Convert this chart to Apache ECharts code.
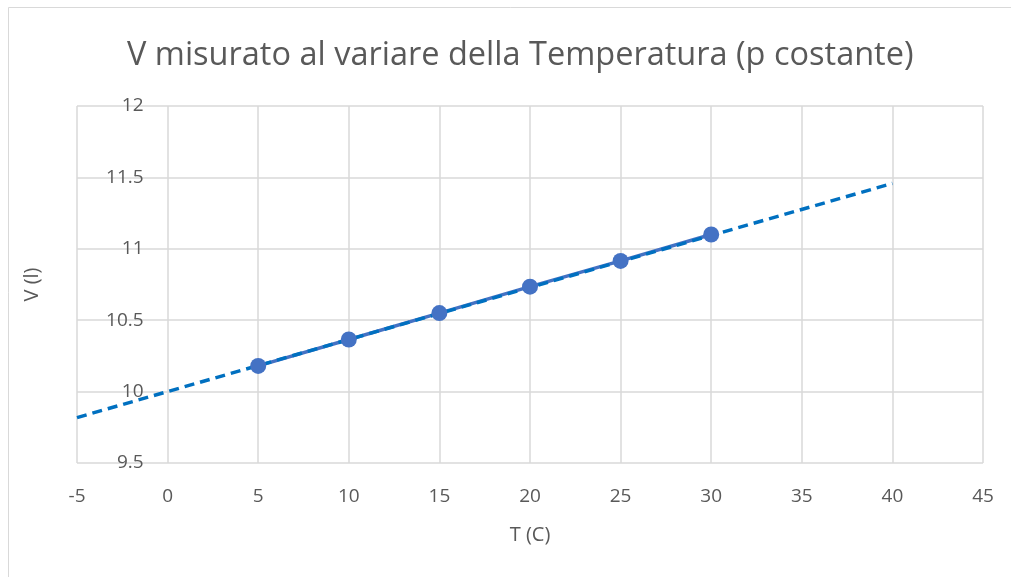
<!DOCTYPE html>
<html>
<head>
<meta charset="utf-8">
<script src="https://cdn.jsdelivr.net/npm/echarts@6/dist/echarts.min.js"></script>
<style>html,body{margin:0;padding:0;background:#fff}#c{width:1011px;height:577px}</style>
</head>
<body>
<div id="c"></div>
<script>
// Data
const temperatures = [5, 10, 15, 20, 25, 30];
const volumes = [10.18, 10.365, 10.55, 10.735, 10.915, 11.10];
const trendT = [-5, 40];
const trendV = [9.818, 11.458];
const xTicks = { min: -5, max: 45, interval: 5 };
const yTicks = { min: 9.5, max: 12, interval: 0.5 };
const titleText = 'V misurato al variare della Temperatura (p costante)';
const xName = 'T (C)';
const yName = 'V (l)';

const pts = temperatures.map((t, i) => [t, volumes[i]]);
const trend = trendT.map((t, i) => [t, trendV[i]]);
const font = '"Open Sans", "Noto Sans", sans-serif';
const grey = '#595959';

const gridLeft = 77, gridRight = 28;
const plotW = 1011 - gridLeft - gridRight;
// y axis crosses the x axis at x = 0
const yAxisOffset = -plotW * (0 - xTicks.min) / (xTicks.max - xTicks.min);

const chart = echarts.init(document.getElementById('c'), null, { renderer: 'canvas' });
chart.setOption({
  animation: false,
  backgroundColor: '#fff',
  title: {
    text: titleText, left: 122, top: 34,
    textStyle: { fontFamily: font, fontSize: 32.5, fontWeight: 'normal', color: grey }
  },
  graphic: [{
    type: 'rect', shape: { x: 8.5, y: 7.5, width: 1100, height: 700 },
    style: { fill: 'none', stroke: '#d9d9d9', lineWidth: 1 }, silent: true
  }],
  grid: { left: gridLeft, right: gridRight, top: 106, bottom: 114, containLabel: false, outerBoundsMode: 'none' },
  xAxis: {
    type: 'value', min: xTicks.min, max: xTicks.max, interval: xTicks.interval,
    name: xName, nameLocation: 'middle', nameGap: 62,
    nameTextStyle: { fontFamily: font, fontSize: 20, color: grey },
    axisLine: { show: false }, axisTick: { show: false },
    axisLabel: { fontFamily: font, fontSize: 19, color: grey, margin: 24 },
    splitLine: { show: true, lineStyle: { color: '#d9d9d9', width: 1.5 } }
  },
  yAxis: {
    type: 'value', min: yTicks.min, max: yTicks.max, interval: yTicks.interval,
    position: 'left', offset: yAxisOffset,
    name: yName, nameLocation: 'middle', nameGap: 125, nameRotate: 90,
    nameTextStyle: { fontFamily: font, fontSize: 20, color: grey },
    axisLine: { show: false, onZero: false }, axisTick: { show: false },
    axisLabel: { fontFamily: font, fontSize: 19, color: grey, margin: 24 },
    splitLine: { show: true, lineStyle: { color: '#d9d9d9', width: 1.5 } }
  },
  series: [
    {
      type: 'line', data: pts, showSymbol: false, z: 2,
      lineStyle: { color: '#4472C4', width: 3.5 }
    },
    {
      type: 'line', data: trend, showSymbol: false, z: 3,
      lineStyle: { color: '#0070C0', width: 3.5, type: [10, 6] }
    },
    {
      type: 'scatter', data: pts, symbol: 'circle', symbolSize: 16, z: 4,
      itemStyle: { color: '#4472C4', opacity: 1 }
    }
  ]
});
</script>
</body>
</html>
